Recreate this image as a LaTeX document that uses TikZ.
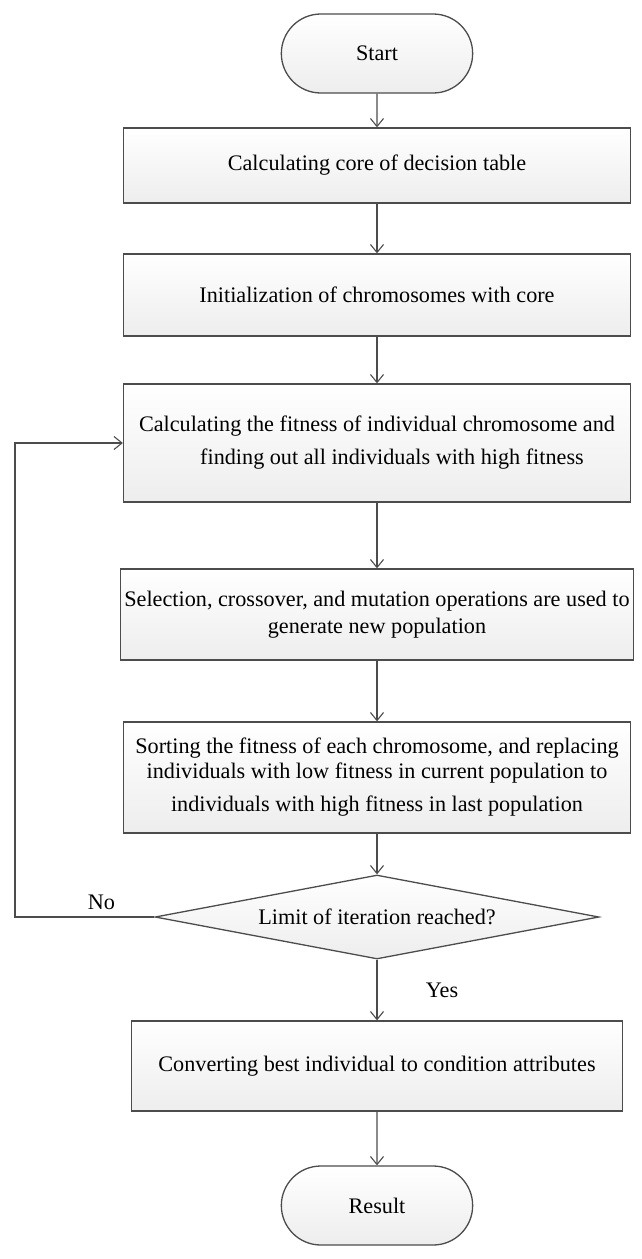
\documentclass[tikz,border=0pt]{standalone}
\usepackage{fontspec}
\setmainfont{Liberation Serif}
\usetikzlibrary{shapes.geometric,shapes.misc,arrows.meta}

\begin{document}
\begin{tikzpicture}[x=1pt,y=-1pt,font=\fontsize{22.2}{27}\selectfont,
  box/.style={rectangle,draw=black!70,line width=1.3pt,top color=white,bottom color=black!7,
    minimum width=507pt,align=center},
  term/.style={rounded rectangle,draw=black!70,line width=1.3pt,top color=white,bottom color=black!7,
    minimum width=198pt,minimum height=79pt},
  test/.style={diamond,draw=black!70,line width=1.3pt,top color=white,bottom color=black!7,
    aspect=5.3,inner sep=0pt,minimum width=444pt,minimum height=84pt},
  flow/.style={draw=black!70,line width=1.1pt,-{Straight Barb[length=8pt,width=13pt]}}]
  \useasboundingbox (0,0) rectangle (642,1259);

  % main column
  \node[term] (start) at (377,53.5) {Start};
  \node[box,minimum height=75pt] (core) at (377,165.5) {Calculating core of decision table};
  \node[box,minimum height=82pt] (init) at (377,295) {Initialization of chromosomes with core};
  \node[box,minimum height=118pt] (fitness) at (377,443)
    {Calculating the fitness of individual chromosome and\\[6pt] \hspace*{30pt}finding out all individuals with high fitness};
  \node[box,minimum width=513pt,minimum height=91pt] (select) at (377,614.5)
    {Selection, crossover, and mutation operations are used to\\ generate new population};
  \node[box,minimum height=111pt] (sort) at (377,777.5)
    {Sorting the fitness of each chromosome, and replacing\\[-2pt] individuals with low fitness in current population to\\[6pt]
     individuals with high fitness in last population};
  \node[test] (limit) at (377,917) {Limit of iteration reached?};
  \node[box,minimum width=491pt,minimum height=90pt] (convert) at (377,1066)
    {Converting best individual to condition attributes};
  \node[term] (result) at (377,1205.5) {Result};

  \path[flow]
  (start) edge (core)
  (core) edge (init)
  (init) edge (fitness)
  (fitness) edge (select)
  (select) edge (sort)
  (sort) edge (limit)
  (limit) edge node[right=45pt] (yes) {Yes} (convert)
  (convert) edge (result);

  % loop back
  \coordinate (back) at (15,917);
  \draw[flow] (limit.west) -- node[above=3pt,pos=0.38] (no) {No} (back) |- (fitness.west);
\end{tikzpicture}
\end{document}
